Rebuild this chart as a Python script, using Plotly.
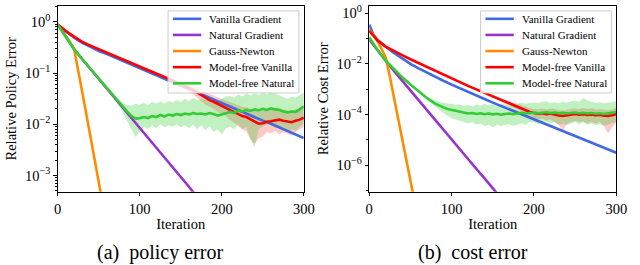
import plotly.graph_objects as go

# ---------------- data (log10 of the error) ----------------
SERIES = ["Vanilla Gradient", "Natural Gradient", "Gauss-Newton",
          "Model-free Vanilla", "Model-free Natural"]
COLORS = ["#4169E1", "#9932CC", "#FF8C00", "#FF0000", "#32CD32"]
BAND_COLORS = {"Model-free Vanilla": "rgba(255,60,60,0.28)",
               "Model-free Natural": "rgba(50,205,50,0.30)"}

# iteration grids
X_VAN_L = list(range(0, 301, 10))
X_NAT_L = list(range(0, 181, 10))
X_GN = [0, 5, 10, 15, 20, 25, 30, 40, 50, 60]
X_VAN_R = [0, 5] + list(range(10, 301, 10))
X_NAT_R = list(range(0, 171, 10))
X_MF = list(range(0, 80, 10)) + list(range(80, 301, 5))

# ---- (a) policy error ----
PE_VANILLA = [-0.05, -0.19, -0.31, -0.41, -0.49, -0.57, -0.63, -0.70, -0.77, -0.84, -0.91,
              -0.97, -1.04, -1.11, -1.18, -1.25, -1.31, -1.38, -1.45, -1.52, -1.59,
              -1.65, -1.72, -1.79, -1.86, -1.93, -1.99, -2.06, -2.13, -2.20, -2.27]
PE_NATURAL = [-0.05, -0.30, -0.535, -0.73, -0.92, -1.11, -1.30, -1.50, -1.69, -1.88,
              -2.07, -2.26, -2.46, -2.65, -2.84, -3.03, -3.22, -3.42, -3.61]
PE_GN = [-0.05, -0.16, -0.28, -0.40, -0.53, -0.93, -1.38, -2.25, -3.12, -4.00]

PE_MFV = [-0.05, -0.18, -0.29, -0.39, -0.465, -0.535, -0.60, -0.67,
          -0.74, -0.775, -0.81, -0.84, -0.875, -0.91, -0.94, -0.975, -1.01, -1.04,
          -1.075, -1.11, -1.14, -1.17, -1.21, -1.24, -1.29, -1.33, -1.38, -1.43,
          -1.49, -1.53, -1.56, -1.60, -1.64, -1.67, -1.72, -1.76, -1.80, -1.84,
          -1.86, -1.90, -1.95, -1.99, -1.98, -1.95, -1.94, -1.93, -1.91, -1.93,
          -1.95, -1.96, -1.93, -1.91, -1.87]
PE_MFV_HI = [-0.04, -0.17, -0.28, -0.38, -0.455, -0.525, -0.59, -0.66,
             -0.73, -0.765, -0.80, -0.83, -0.86, -0.895, -0.925, -0.955, -0.99, -1.015,
             -1.05, -1.08, -1.10, -1.12, -1.15, -1.17, -1.21, -1.24, -1.28, -1.32,
             -1.38, -1.41, -1.44, -1.47, -1.51, -1.53, -1.57, -1.60, -1.63, -1.66,
             -1.67, -1.70, -1.73, -1.76, -1.74, -1.72, -1.70, -1.70, -1.68, -1.71,
             -1.73, -1.74, -1.70, -1.69, -1.66]
PE_MFV_LO = [-0.06, -0.19, -0.30, -0.40, -0.475, -0.545, -0.61, -0.68,
             -0.75, -0.785, -0.82, -0.85, -0.89, -0.925, -0.955, -0.995, -1.03, -1.065,
             -1.10, -1.14, -1.18, -1.22, -1.27, -1.31, -1.37, -1.42, -1.48, -1.55,
             -1.62, -1.66, -1.70, -1.76, -1.80, -1.84, -1.92, -1.97, -2.04, -2.10,
             -2.14, -2.30, -2.38, -2.28, -2.24, -2.15, -2.18, -2.13, -2.20, -2.15,
             -2.18, -2.22, -2.15, -2.10, -2.05]

PE_MFN = [-0.05, -0.30, -0.535, -0.73, -0.92, -1.11, -1.30, -1.49,
          -1.68, -1.76, -1.84, -1.89, -1.88, -1.86, -1.88, -1.84, -1.86, -1.82,
          -1.85, -1.81, -1.83, -1.80, -1.82, -1.79, -1.81, -1.78, -1.80, -1.79,
          -1.81, -1.78, -1.80, -1.83, -1.81, -1.78, -1.76, -1.78, -1.73, -1.75,
          -1.72, -1.74, -1.71, -1.73, -1.70, -1.72, -1.69, -1.71, -1.72, -1.75,
          -1.77, -1.75, -1.76, -1.71, -1.65]
PE_MFN_HI = [-0.04, -0.29, -0.525, -0.72, -0.91, -1.10, -1.28, -1.45,
             -1.60, -1.62, -1.64, -1.60, -1.62, -1.58, -1.63, -1.56, -1.60, -1.55,
             -1.60, -1.54, -1.58, -1.52, -1.57, -1.50, -1.55, -1.48, -1.53, -1.50,
             -1.52, -1.47, -1.52, -1.55, -1.50, -1.46, -1.45, -1.48, -1.42, -1.46,
             -1.40, -1.44, -1.40, -1.43, -1.38, -1.42, -1.36, -1.40, -1.43, -1.47,
             -1.50, -1.46, -1.48, -1.43, -1.38]
PE_MFN_LO = [-0.06, -0.31, -0.545, -0.74, -0.93, -1.12, -1.32, -1.53,
             -1.78, -1.95, -2.10, -2.25, -2.15, -2.05, -2.10, -2.02, -2.08, -2.00,
             -2.06, -2.02, -2.05, -2.00, -2.06, -2.02, -2.08, -2.00, -2.10, -2.02,
             -2.12, -2.04, -2.15, -2.10, -2.20, -2.08, -2.05, -2.10, -2.00, -2.10,
             -2.05, -2.30, -2.45, -2.10, -2.05, -2.00, -2.02, -2.08, -2.05, -2.12,
             -2.15, -2.10, -2.12, -2.05, -1.98]

# ---- (b) cost error ----
CE_VANILLA = [-0.455, -0.85, -1.05, -1.33, -1.57, -1.80, -2.00, -2.18, -2.35, -2.51, -2.67,
              -2.82, -2.97, -3.11, -3.25, -3.39, -3.53, -3.66, -3.79, -3.92, -4.06,
              -4.19, -4.32, -4.45, -4.58, -4.72, -4.85, -4.98, -5.11, -5.24, -5.38, -5.51]
CE_NATURAL = [-1.04, -1.47, -1.88, -2.28, -2.67, -3.06, -3.44, -3.83, -4.21, -4.60,
              -4.98, -5.37, -5.75, -6.14, -6.52, -6.91, -7.29, -7.68]
CE_GN = [-0.65, -0.85, -1.10, -1.40, -1.75, -2.50, -3.30, -4.95, -6.60, -8.25]

CE_MFV = [-0.70, -1.08, -1.32, -1.50, -1.66, -1.82, -1.97, -2.13,
          -2.29, -2.37, -2.45, -2.52, -2.60, -2.67, -2.74, -2.80, -2.87, -2.94,
          -3.01, -3.08, -3.15, -3.22, -3.29, -3.36, -3.43, -3.50, -3.56, -3.63,
          -3.69, -3.76, -3.83, -3.90, -3.94, -3.97, -3.95, -3.99, -3.96, -4.01,
          -4.04, -4.06, -4.03, -4.00, -3.98, -4.01, -3.99, -4.02, -4.00, -4.03,
          -4.01, -4.05, -4.06, -4.03, -3.98]
CE_MFV_HI = [-0.69, -1.07, -1.31, -1.49, -1.65, -1.81, -1.96, -2.12,
             -2.28, -2.36, -2.44, -2.51, -2.59, -2.66, -2.73, -2.79, -2.86, -2.92,
             -2.99, -3.05, -3.12, -3.18, -3.24, -3.30, -3.36, -3.42, -3.47, -3.53,
             -3.58, -3.64, -3.70, -3.75, -3.78, -3.80, -3.76, -3.80, -3.75, -3.80,
             -3.82, -3.85, -3.80, -3.78, -3.75, -3.78, -3.74, -3.78, -3.75, -3.80,
             -3.78, -3.82, -3.84, -3.80, -3.72]
CE_MFV_LO = [-0.71, -1.09, -1.33, -1.51, -1.67, -1.83, -1.98, -2.14,
             -2.30, -2.38, -2.46, -2.53, -2.61, -2.68, -2.75, -2.81, -2.88, -2.96,
             -3.03, -3.11, -3.18, -3.26, -3.34, -3.42, -3.50, -3.58, -3.65, -3.73,
             -3.80, -3.88, -3.98, -4.08, -4.15, -4.20, -4.15, -4.25, -4.20, -4.30,
             -4.40, -4.65, -4.35, -4.30, -4.25, -4.30, -4.28, -4.35, -4.30, -4.35,
             -4.30, -4.45, -4.75, -4.50, -4.30]

CE_MFN = [-0.95, -1.45, -1.88, -2.22, -2.53, -2.82, -3.10, -3.35,
          -3.57, -3.66, -3.72, -3.78, -3.82, -3.86, -3.90, -3.93, -3.96, -3.94,
          -3.98, -3.95, -3.99, -3.96, -4.00, -3.97, -4.01, -3.98, -3.96, -3.99,
          -3.95, -3.93, -3.96, -3.94, -3.92, -3.95, -3.93, -3.91, -3.94, -3.92,
          -3.95, -3.93, -3.96, -3.94, -3.92, -3.95, -3.93, -3.96, -3.94, -3.97,
          -3.95, -3.98, -3.96, -3.93, -3.90]
CE_MFN_HI = [-0.94, -1.44, -1.87, -2.21, -2.52, -2.80, -3.07, -3.30,
             -3.45, -3.50, -3.55, -3.56, -3.58, -3.62, -3.60, -3.66, -3.62, -3.68,
             -3.60, -3.65, -3.58, -3.64, -3.60, -3.66, -3.58, -3.62, -3.65, -3.60,
             -3.56, -3.54, -3.58, -3.55, -3.52, -3.56, -3.50, -3.48, -3.55, -3.52,
             -3.56, -3.50, -3.54, -3.48, -3.45, -3.50, -3.35, -3.45, -3.50, -3.55,
             -3.52, -3.56, -3.54, -3.50, -3.48]
CE_MFN_LO = [-0.96, -1.46, -1.89, -2.23, -2.54, -2.84, -3.13, -3.40,
             -3.70, -3.82, -3.95, -4.05, -4.15, -4.20, -4.25, -4.30, -4.35, -4.30,
             -4.40, -4.35, -4.45, -4.40, -4.50, -4.40, -4.45, -4.40, -4.38, -4.45,
             -4.40, -4.35, -4.40, -4.30, -4.32, -4.38, -4.30, -4.28, -4.35, -4.30,
             -4.40, -4.35, -4.42, -4.35, -4.30, -4.38, -4.30, -4.40, -4.35, -4.42,
             -4.38, -4.45, -4.40, -4.35, -4.30]

Y_LABELS = ["Relative Policy Error", "Relative Cost Error"]
CAPTIONS = ["(a)  policy error", "(b)  cost error"]


def vals(logs):
    return [10 ** v for v in logs]


W, H = 640, 265
FONT = "Liberation Serif"
LW = 2.6
fig = go.Figure()

panels = [
    dict(xa="x", ya="y",
         lines=[(X_VAN_L, PE_VANILLA), (X_NAT_L, PE_NATURAL), (X_GN, PE_GN),
                (X_MF, PE_MFV), (X_MF, PE_MFN)],
         bands={"Model-free Vanilla": (PE_MFV_LO, PE_MFV_HI),
                "Model-free Natural": (PE_MFN_LO, PE_MFN_HI)}),
    dict(xa="x2", ya="y2",
         lines=[(X_VAN_R, CE_VANILLA), (X_NAT_R, CE_NATURAL), (X_GN, CE_GN),
                (X_MF, CE_MFV), (X_MF, CE_MFN)],
         bands={"Model-free Vanilla": (CE_MFV_LO, CE_MFV_HI),
                "Model-free Natural": (CE_MFN_LO, CE_MFN_HI)}),
]

for p in panels:
    for name in ["Model-free Vanilla", "Model-free Natural"]:
        lo, hi = p["bands"][name]
        fig.add_trace(go.Scatter(x=X_MF, y=vals(hi), mode="lines", line=dict(width=0),
                                 showlegend=False, hoverinfo="skip",
                                 xaxis=p["xa"], yaxis=p["ya"]))
        fig.add_trace(go.Scatter(x=X_MF, y=vals(lo), mode="lines", line=dict(width=0),
                                 fill="tonexty", fillcolor=BAND_COLORS[name],
                                 showlegend=False, hoverinfo="skip",
                                 xaxis=p["xa"], yaxis=p["ya"]))
    for name, color, (xs, ys) in zip(SERIES, COLORS, p["lines"]):
        fig.add_trace(go.Scatter(x=xs, y=vals(ys), mode="lines", name=name,
                                 line=dict(color=color, width=LW), showlegend=False,
                                 xaxis=p["xa"], yaxis=p["ya"]))

# ---- legends drawn as a box with line samples and text (matplotlib-like spacing) ----
shapes, annotations = [], []
for left in (168, 488):
    top, bottom, right = 8, 91, left + 134
    shapes.append(dict(type="rect", xref="paper", yref="paper", layer="above",
                       x0=left / W, x1=right / W, y0=1 - bottom / H, y1=1 - top / H,
                       fillcolor="rgba(255,255,255,0.8)",
                       line=dict(color="#cccccc", width=1)))
    for i, (name, color) in enumerate(zip(SERIES, COLORS)):
        yc = 16 + i * 16.3
        shapes.append(dict(type="line", xref="paper", yref="paper", layer="above",
                           x0=(left + 5) / W, x1=(left + 34) / W,
                           y0=1 - yc / H, y1=1 - yc / H,
                           line=dict(color=color, width=LW)))
        annotations.append(dict(text=name, x=(left + 40) / W, y=1 - yc / H,
                                xref="paper", yref="paper", showarrow=False,
                                xanchor="left", yanchor="middle",
                                font=dict(family=FONT, size=11, color="black")))

for cap, xc in zip(CAPTIONS, (160, 480)):
    annotations.append(dict(text=cap, x=xc / W, y=1 - 252 / H, xref="paper", yref="paper",
                            showarrow=False, xanchor="center", yanchor="middle",
                            font=dict(family=FONT, size=20, color="black")))

axis_common = dict(showline=True, mirror=True, linecolor="black", linewidth=1,
                   ticks="outside", ticklen=3.5, tickwidth=1, tickcolor="black",
                   showgrid=False, zeroline=False,
                   tickfont=dict(family=FONT, size=14.5, color="black"))

y_dom = [(H - 191) / H, (H - 3) / H]
title_font = dict(family=FONT, size=14.5, color="black")
fig.update_layout(
    width=W, height=H, margin=dict(l=0, r=0, t=0, b=0),
    paper_bgcolor="white", plot_bgcolor="white", showlegend=False,
    font=dict(family=FONT, size=14.5, color="black"),
    xaxis=dict(domain=[55 / W, 307 / W], range=[0, 300], tickvals=[0, 100, 200, 300],
               title=dict(text="Iteration", standoff=3, font=title_font), anchor="y",
               **axis_common),
    xaxis2=dict(domain=[374 / W, 627 / W], range=[0, 300], tickvals=[0, 100, 200, 300],
                title=dict(text="Iteration", standoff=3, font=title_font), anchor="y2",
                **axis_common),
    yaxis=dict(domain=y_dom, type="log", range=[-3.32, 0.31], anchor="x",
               tickvals=[1e-3, 1e-2, 1e-1, 1],
               ticktext=["10<sup>−3</sup>", "10<sup>−2</sup>", "10<sup>−1</sup>", "10<sup>0</sup>"],
               minor=dict(tickvals=[d * 10 ** e for e in range(-4, 1) for d in range(2, 10)],
                          ticks="outside", ticklen=2, tickcolor="black", showgrid=False),
               title=dict(text=Y_LABELS[0], standoff=4, font=title_font), **axis_common),
    yaxis2=dict(domain=y_dom, type="log", range=[-7.05, 0.28], anchor="x2",
                tickvals=[1e-6, 1e-4, 1e-2, 1],
                ticktext=["10<sup>−6</sup>", "10<sup>−4</sup>", "10<sup>−2</sup>", "10<sup>0</sup>"],
                minor=dict(tickvals=[1e-7, 1e-5, 1e-3, 1e-1],
                           ticks="outside", ticklen=2, tickcolor="black", showgrid=False),
                title=dict(text=Y_LABELS[1], standoff=4, font=title_font), **axis_common),
    shapes=shapes,
    annotations=annotations,
)

fig.write_html("out.html", config={"displayModeBar": False},
               post_script="document.body.style.margin='0px';")
